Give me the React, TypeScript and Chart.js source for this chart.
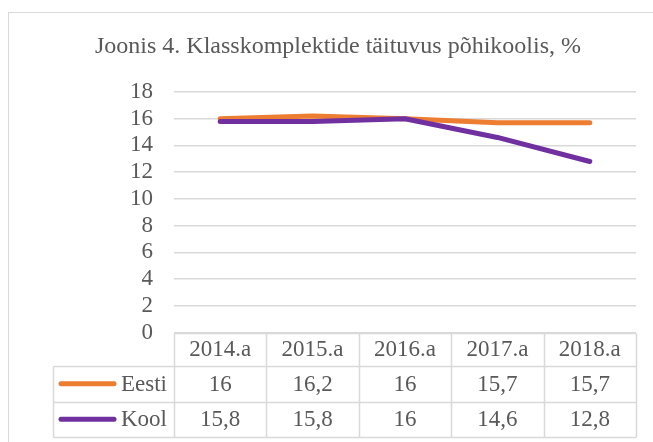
import React, { useEffect, useRef } from "react";
import { Chart, registerables } from "chart.js";

Chart.register(...registerables);

const TITLE = "Joonis 4. Klasskomplektide täituvus põhikoolis, %";
const categories = ["2014.a", "2015.a", "2016.a", "2017.a", "2018.a"];
const eestiValues = [16, 16.2, 16, 15.7, 15.7];
const koolValues = [15.8, 15.8, 16, 14.6, 12.8];
const seriesNames = ["Eesti", "Kool"];
const seriesColors = ["#ED7D31", "#7030A0"];
const yTicks = { min: 0, max: 18, step: 2 };

const FONT = "'Liberation Serif', 'Times New Roman', serif";
const TEXT = "#595959";
const GRID = "#d9d9d9";

const fmt = (v: number) => String(v).replace(".", ",");

const tablePlugin = {
  id: "dataTable",
  beforeDraw(chart: any) {
    const ctx = chart.ctx;
    ctx.save();
    ctx.strokeStyle = GRID;
    ctx.lineWidth = 1;
    ctx.strokeRect(8.5, 12.5, chart.width + 20, chart.height + 20);
    ctx.fillStyle = TEXT;
    ctx.font = `24px ${FONT}`;
    ctx.textAlign = "center";
    ctx.textBaseline = "middle";
    ctx.fillText(TITLE, 338, 47);
    ctx.restore();
  },
  afterDraw(chart: any) {
    const ctx = chart.ctx;
    const x = chart.scales.x;
    const area = chart.chartArea;
    const n = categories.length;
    const colW = (x.right - x.left) / n;
    const top = area.bottom;
    const rowH = [33.5, 35.5, 35.5];
    const rows = [top, top + rowH[0], top + rowH[0] + rowH[1], top + rowH[0] + rowH[1] + rowH[2]];
    const legendLeft = 53.5;
    const al = (v: number) => Math.round(v) + 0.5;
    ctx.save();
    ctx.strokeStyle = GRID;
    ctx.lineWidth = 1.5;
    ctx.beginPath();
    ctx.moveTo(x.left, al(rows[0]));
    ctx.lineTo(x.right, al(rows[0]));
    for (let r = 1; r < rows.length; r++) {
      ctx.moveTo(legendLeft, al(rows[r]));
      ctx.lineTo(x.right, al(rows[r]));
    }
    ctx.moveTo(legendLeft, al(rows[1]));
    ctx.lineTo(legendLeft, al(rows[3]));
    for (let i = 0; i <= n; i++) {
      const px = al(x.left + i * colW);
      ctx.moveTo(px, al(rows[0]));
      ctx.lineTo(px, al(rows[3]));
    }
    ctx.stroke();

    ctx.fillStyle = TEXT;
    ctx.font = `23px ${FONT}`;
    ctx.textBaseline = "middle";
    ctx.textAlign = "center";
    categories.forEach((c, i) => {
      ctx.fillText(c, x.getPixelForTick(i), (rows[0] + rows[1]) / 2 + 1);
    });
    const series = [eestiValues, koolValues];
    series.forEach((vals, s) => {
      const cy = (rows[s + 1] + rows[s + 2]) / 2 + 1;
      ctx.textAlign = "center";
      ctx.fillStyle = TEXT;
      vals.forEach((v, i) => ctx.fillText(fmt(v), x.getPixelForTick(i), cy));
      ctx.textAlign = "right";
      ctx.fillText(seriesNames[s], x.left - 7, cy);
      ctx.strokeStyle = seriesColors[s];
      ctx.lineWidth = 5;
      ctx.lineCap = "round";
      ctx.beginPath();
      ctx.moveTo(61, cy - 1);
      ctx.lineTo(114, cy - 1);
      ctx.stroke();
    });
    ctx.restore();
  },
};

export default function App() {
  const ref = useRef<HTMLCanvasElement>(null);
  useEffect(() => {
    if (!ref.current) return;
    const chart = new Chart(ref.current, {
      type: "line",
      data: {
        labels: categories,
        datasets: [
          {
            label: seriesNames[0],
            data: eestiValues,
            borderColor: seriesColors[0],
            backgroundColor: seriesColors[0],
            borderWidth: 5,
            borderCapStyle: "round",
            borderJoinStyle: "round",
            pointRadius: 0,
            tension: 0,
            order: 2,
          },
          {
            label: seriesNames[1],
            data: koolValues,
            borderColor: seriesColors[1],
            backgroundColor: seriesColors[1],
            borderWidth: 5,
            borderCapStyle: "round",
            borderJoinStyle: "round",
            pointRadius: 0,
            tension: 0,
            order: 1,
          },
        ],
      },
      options: {
        animation: false,
        responsive: true,
        maintainAspectRatio: false,
        devicePixelRatio: 1,
        layout: { padding: { top: 92, right: 17, left: 0, bottom: 0 } },
        plugins: {
          legend: { display: false },
          title: { display: false },
          tooltip: { enabled: false },
        },
        scales: {
          x: {
            type: "category",
            offset: true,
            grid: { display: false },
            border: { display: false },
            ticks: { display: false },
            afterFit: (s: any) => {
              s.height = 109.5;
            },
          },
          y: {
            min: yTicks.min,
            max: yTicks.max,
            border: { display: false },
            grid: { color: GRID, lineWidth: 1.5, drawTicks: false },
            ticks: {
              stepSize: yTicks.step,
              autoSkip: false,
              padding: 21,
              color: TEXT,
              font: { family: FONT, size: 23 },
            },
            afterFit: (s: any) => {
              s.width = 174;
            },
          },
        },
      },
      plugins: [tablePlugin],
    } as any);
    return () => chart.destroy();
  }, []);
  return (
    <div style={{ position: "absolute", left: 0, top: 0, width: 653, height: 442, background: "#fff" }}>
      <canvas ref={ref} />
    </div>
  );
}
